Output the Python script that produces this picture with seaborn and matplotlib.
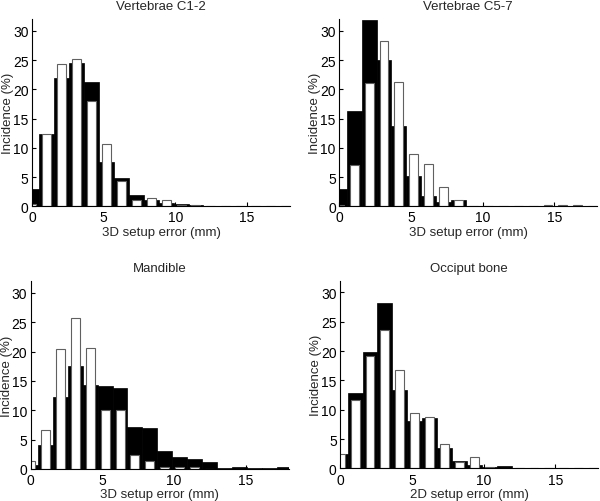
import numpy as np
import pandas as pd
import matplotlib
matplotlib.use("Agg")
import matplotlib.pyplot as plt
import seaborn as sns

# Bin centres of the histograms (mm)
bin_centers = [0.00, 1.04, 2.08, 3.12, 4.16, 5.20, 6.24, 7.28, 8.32,
               9.36, 10.40, 11.44, 12.48, 13.52, 14.56, 15.60, 16.64, 17.68]
bin_half_width = 0.52

# Incidence (%) per bin, two series per panel (black = wide bars, white = narrow bars)
c12_black = [3.0, 12.4, 22.0, 24.5, 21.3, 7.5, 4.8, 2.0, 1.0, 0.6, 0.4, 0.3, 0.05, 0, 0, 0, 0, 0]
c12_white = [0.4, 12.3, 24.3, 25.1, 18.0, 10.6, 4.4, 1.0, 1.4, 1.0, 0.3, 0.2, 0, 0, 0, 0, 0, 0]

c57_black = [3.0, 16.3, 31.9, 25.0, 13.7, 5.1, 1.7, 0.8, 1.1, 0.1, 0.1, 0.1, 0, 0, 0, 0, 0, 0]
c57_white = [0.3, 7.1, 21.0, 28.3, 21.3, 9.0, 7.2, 3.3, 1.1, 0, 0, 0, 0, 0, 0.3, 0.3, 0.3, 0]

mand_black = [0.6, 4.0, 12.2, 17.6, 14.3, 14.1, 13.7, 7.1, 6.9, 3.1, 2.1, 1.7, 1.2, 0.15, 0.25, 0.1, 0.1, 0.4]
mand_white = [1.3, 6.7, 20.5, 25.7, 20.6, 10.0, 10.0, 2.4, 1.4, 0.3, 0.3, 0.3, 0, 0, 0, 0, 0, 0]

occ_black = [2.5, 12.8, 19.9, 28.2, 13.4, 8.0, 8.6, 3.5, 1.3, 0.6, 0.2, 0.4, 0, 0, 0, 0, 0, 0]
occ_white = [2.5, 11.6, 19.1, 23.6, 16.7, 9.5, 8.7, 4.1, 1.1, 1.9, 0.3, 0.1, 0, 0, 0, 0, 0, 0]

titles = ["Vertebrae C1-2", "Vertebrae C5-7", "Mandible", "Occiput bone"]
xlabels = ["3D setup error (mm)", "3D setup error (mm)", "3D setup error (mm)", "2D setup error (mm)"]
ylabel = "Incidence (%)"
x_ticks = [0, 5, 10, 15]
y_ticks = [0, 5, 10, 15, 20, 25, 30]

series = [(c12_black, c12_white), (c57_black, c57_white),
          (mand_black, mand_white), (occ_black, occ_white)]

sns.set_style("ticks")
plt.rcParams["font.family"] = ["Liberation Sans", "DejaVu Sans"]
plt.rcParams["font.size"] = 9

fig = plt.figure(figsize=(6.0, 5.02), dpi=100)
positions = [
    [0.0533, 0.587, 0.430, 0.373],
    [0.5655, 0.587, 0.430, 0.373],
    [0.0510, 0.064, 0.430, 0.374],
    [0.5670, 0.065, 0.430, 0.374],
]

centers = np.array(bin_centers)
edges = [float(e) for e in np.append(centers - bin_half_width, centers[-1] + bin_half_width)]

for pos, (blk, wht), title, xlab in zip(positions, series, titles, xlabels):
    ax = fig.add_axes(pos)
    df = pd.DataFrame({"x": bin_centers, "black": blk, "white": wht})
    sns.histplot(data=df, x="x", weights="black", bins=edges, ax=ax,
                 color="black", edgecolor="black", linewidth=0.5, alpha=1)
    sns.histplot(data=df, x="x", weights="white", bins=edges, shrink=0.6, ax=ax,
                 color="white", edgecolor="#606060", linewidth=0.8, alpha=1)
    ax.set_xlim(0, 18)
    ax.set_ylim(0, 32)
    ax.set_xticks(x_ticks)
    ax.set_yticks(y_ticks)
    ax.tick_params(direction="in", length=3, width=0.8, labelsize=10, colors="black")
    ax.tick_params(axis="x", pad=3)
    ax.tick_params(axis="y", pad=2.5)
    for s in ["top", "right"]:
        ax.spines[s].set_visible(False)
    for s in ["left", "bottom"]:
        ax.spines[s].set_color("black")
        ax.spines[s].set_linewidth(0.8)
    ax.set_title(title, fontsize=9.5, pad=7)
    ax.set_xlabel(xlab, fontsize=9.5, labelpad=1)
    ax.set_ylabel(ylabel, fontsize=9.5)
    ax.yaxis.set_label_coords(-0.07, 0.5)

fig.savefig("out.png", dpi=100)
